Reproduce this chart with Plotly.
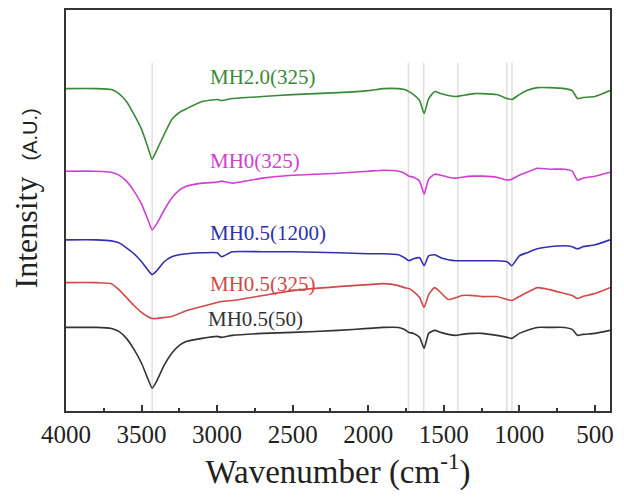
import plotly.graph_objects as go

wn = [4000, 3800, 3700, 3650, 3600, 3550, 3500, 3460, 3430, 3400,
      3350, 3300, 3250, 3200, 3100, 3000, 2970, 2900, 2700, 2500,
      2200, 2000, 1900, 1800, 1760, 1730, 1700, 1660, 1630, 1600,
      1560, 1520, 1470, 1420, 1380, 1300, 1250, 1150, 1080, 1050,
      1000, 950, 880, 800, 700, 650, 615, 580, 500, 400]

# Intensities (arbitrary units, vertically offset as in the figure)
mh20_325 = [324, 324, 323, 319, 311, 298, 283, 266, 253, 262,
            278, 293, 300, 304, 311, 313, 312, 314, 316, 318,
            320, 322, 324, 324, 323, 321, 318, 312, 299, 314,
            321, 319, 317, 316, 317, 319, 319, 318, 314, 313,
            318, 322, 325, 325, 324, 322, 314, 315, 316, 322]
mh0_325 = [241, 241, 240, 237, 231, 221, 208, 193, 182, 188,
           202, 214, 222, 226, 229, 230, 231, 229, 234, 237,
           239, 241, 242, 241, 239, 236, 235, 231, 218, 233,
           238, 237, 235, 234, 235, 236, 236, 235, 232, 233,
           237, 240, 244, 243, 243, 241, 232, 234, 236, 240]
mh05_1200 = [172, 172, 171, 169, 164, 158, 150, 142, 137, 141,
             150, 155, 157, 158, 159, 159, 155, 160, 160, 160,
             159, 158, 158, 157, 154, 151, 153, 154, 146, 156,
             157, 154, 152, 151, 151, 151, 151, 151, 150, 146,
             156, 159, 163, 165, 166, 165, 163, 165, 167, 172]
mh05_325 = [129, 129, 128, 122, 114, 106, 99, 95, 93, 93,
            94, 95, 98, 101, 105, 109, 110, 111, 116, 121,
            125, 127, 128, 126, 124, 123, 120, 114, 104, 117,
            124, 119, 112, 114, 116, 116, 115, 115, 112, 111,
            115, 119, 124, 122, 118, 116, 113, 115, 118, 124]
mh05_50 = [84, 84, 83, 80, 73, 62, 48, 33, 23, 30,
           46, 58, 66, 70, 73, 75, 74, 76, 78, 79,
           81, 83, 84, 84, 82, 79, 78, 74, 63, 78,
           81, 79, 77, 76, 77, 78, 78, 76, 74, 73,
           78, 81, 84, 84, 84, 82, 76, 77, 78, 81]

series_names = ["MH0.5(50)", "MH0.5(325)", "MH0.5(1200)", "MH0(325)", "MH2.0(325)"]
series_values = [mh05_50, mh05_325, mh05_1200, mh0_325, mh20_325]
series_colors = ["#333333", "#d24848", "#3030b0", "#d040d0", "#3a8a3a"]
label_x = [3075, 3060, 3060, 3060, 3060]
label_y = [92, 128, 179, 251, 336]

# Reference band positions (cm^-1)
band_lines = [3430, 1734, 1633, 1407, 1082, 1049]

x_ticks = [4000, 3500, 3000, 2500, 2000, 1500, 1000, 500]

fig = go.Figure()
for b in band_lines:
    fig.add_shape(type="line", x0=b, x1=b, y0=0, y1=350, xref="x", yref="y",
                  line=dict(color="rgba(200,195,195,0.55)", width=1.5), layer="below")

for name, vals, col in zip(series_names, series_values, series_colors):
    fig.add_trace(go.Scatter(x=wn, y=vals, mode="lines", name=name,
                             line=dict(color=col, width=1.6, shape="spline", smoothing=0.5),
                             showlegend=False))

for name, lx, ly, col in zip(series_names, label_x, label_y, series_colors):
    fig.add_annotation(x=lx, y=ly, text=name, showarrow=False, xanchor="left",
                       yanchor="middle", font=dict(family="Liberation Serif", size=21, color=col))

# y-axis title
fig.add_annotation(
    xref="paper", yref="paper", x=0, y=0.53, xshift=-40, textangle=-90,
    xanchor="center", yanchor="middle", showarrow=False,
    text="Intensity  <span style='font-size:20px;font-family:Liberation Sans'>(A.U.)</span>",
    font=dict(size=32, family="Liberation Serif", color="#222222"),
)

fig.update_layout(
    width=624, height=497,
    margin=dict(l=66, r=14, t=8, b=86),
    paper_bgcolor="white", plot_bgcolor="white",
    font=dict(family="Liberation Serif", color="#222222"),
)
fig.update_xaxes(
    range=[4000, 400], tickvals=x_ticks, ticktext=[str(v) for v in x_ticks],
    ticks="inside", ticklen=6, tickwidth=1.5, tickcolor="#333333",
    minor=dict(ticks="inside", ticklen=3, tickwidth=1.5, dtick=250, tick0=0, tickcolor="#333333"),
    showline=True, linewidth=2, linecolor="#333333", mirror=True,
    showgrid=False, zeroline=False,
    tickfont=dict(size=25, family="Liberation Serif", color="#222222"),
    title=dict(text="Wavenumber (cm<sup>-1</sup>)",
               font=dict(size=33, family="Liberation Serif", color="#222222"), standoff=2),
)
fig.update_yaxes(
    range=[0, 403], showticklabels=False, ticks="",
    showline=True, linewidth=2, linecolor="#333333", mirror=True,
    showgrid=False, zeroline=False,
)

fig.write_html("out.html")
